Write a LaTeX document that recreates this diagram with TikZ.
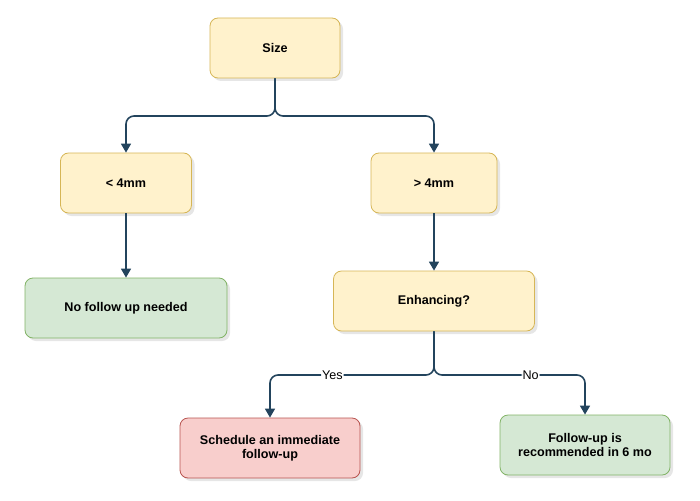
\documentclass[tikz,border=0pt]{standalone}
\usepackage{fontspec}
\setmainfont{Liberation Sans}
\usepackage{xcolor}
\usetikzlibrary{arrows.meta}
\usetikzlibrary{shadows}

\definecolor{yfill}{HTML}{FFF2CC}
\definecolor{ydraw}{HTML}{D6B656}
\definecolor{gfill}{HTML}{D5E8D4}
\definecolor{gdraw}{HTML}{82B366}
\definecolor{rfill}{HTML}{F8CECC}
\definecolor{rdraw}{HTML}{B85450}
\definecolor{edgecol}{HTML}{23445D}

\begin{document}
\begin{tikzpicture}[x=1pt, y=-1pt,
  box/.style={rectangle, rounded corners=8pt, draw, line width=0.8pt, minimum height=60pt, align=center,
    font=\fontsize{12.6}{14.5}\selectfont\bfseries, drop shadow={shadow xshift=3pt, shadow yshift=-3pt, opacity=0.2}},
  ybox/.style={box, fill=yfill, draw=ydraw},
  gbox/.style={box, fill=gfill, draw=gdraw},
  rbox/.style={box, fill=rfill, draw=rdraw},
  edge/.style={draw=edgecol, line width=1.6pt, rounded corners=8pt, -{Triangle[width=10pt,length=9pt]}},
  lbl/.style={fill=white, inner sep=1pt, font=\fontsize{12.6}{14.5}\selectfont}]
  \useasboundingbox (0,0) rectangle (700,500);
  \node[ybox, minimum width=130pt](size) at (275,48) {Size};
  \node[ybox, minimum width=131pt](small) at (126,183) {< 4mm};
  \node[ybox, minimum width=126pt](big) at (434,183) {> 4mm};
  \node[gbox, minimum width=202pt](none) at (126,308) {No follow up needed};
  \node[ybox, minimum width=201pt](enh) at (434,301) {Enhancing?};
  \node[rbox, minimum width=180pt](sched) at (270,448) {Schedule an immediate\\follow-up};
  \node[gbox, minimum width=170pt](six) at (585,445) {Follow-up is\\recommended in 6 mo};
  % joints
  \coordinate (j1) at (275,116);
  \coordinate (j2) at (434,375);
  \draw[edge] (size.south) -- (j1) -| (small.north);
  \draw[edge] (size.south) -- (j1) -| (big.north);
  \draw[edge] (small) -- (none);
  \draw[edge] (big) -- (enh);
  \draw[edge] (enh.south) -- (j2) -| node[lbl, pos=0.31]{Yes} (sched.north);
  \draw[edge] (enh.south) -- (j2) -| node[lbl, pos=0.32]{No} (six.north);
\end{tikzpicture}
\end{document}
